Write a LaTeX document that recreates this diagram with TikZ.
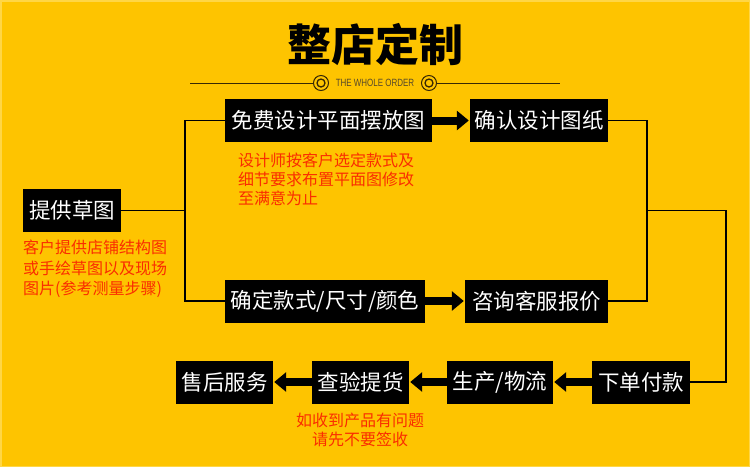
\documentclass[tikz,border=0pt]{standalone}
\usepackage{fontspec}
\usepackage{graphicx}
\setmainfont{Noto Sans CJK SC}
\newfontfamily\latinf{Liberation Sans}
\usetikzlibrary{arrows.meta}
\definecolor{bg}{RGB}{254,196,0}
\definecolor{bgedge}{RGB}{255,214,70}
\definecolor{redtxt}{RGB}{250,45,0}
\definecolor{ornament}{RGB}{55,40,5}
\begin{document}
\begin{tikzpicture}[x=1pt,y=-1pt,
  box/.style={fill=black, text=white, inner sep=0pt, minimum height=43pt, font=\fontsize{21.5}{24}\selectfont},
  note/.style={text=redtxt, inner sep=0pt, align=left, anchor=north west, font=\fontsize{16}{19}\selectfont},
  link/.style={draw=black, line width=1.1pt},
  bigarrow/.style={draw=black, line width=8pt, shorten >=1pt, -{Triangle[length=12pt 0, width=19pt 0]}},
  ring/.style={circle, draw=ornament, inner sep=0pt},
]
\fill[bg] (0,0) rectangle (750,467);
\draw[bgedge, line width=1.5pt] (0.75,0.75) rectangle (749.25,466.25);
\useasboundingbox (0,0) rectangle (750,467);

% title
\node[font=\fontsize{44}{48}\selectfont\bfseries, inner sep=0pt] (title) at (375,45) {整店定制};
\node[font=\latinf\fontsize{10.5}{12}\selectfont, text=ornament!85, inner sep=0pt] (sub) at (375,83) {\scalebox{0.76}[1]{THE WHOLE ORDER}};
\node[ring, line width=1pt, minimum size=15pt] (cl) at (321,83) {};
\node[ring, line width=1.3pt, minimum size=8pt] (cli) at (321,83) {};
\node[ring, line width=1pt, minimum size=15pt] (cr) at (429,83) {};
\node[ring, line width=1.3pt, minimum size=8pt] (cri) at (429,83) {};
\coordinate (ol) at (190,83);
\coordinate (or) at (560,83);
\draw[ornament, line width=1pt] (ol) -- (cl.west);
\draw[ornament, line width=1pt] (cr.east) -- (or);

% boxes
\node[box, minimum width=98pt] (s) at (72,210.5) {提供草图};
\node[box, minimum width=207pt] (b1) at (328.5,120.5) {免费设计平面摆放图};
\node[box, minimum width=138pt] (b2) at (539,120.5) {确认设计图纸};
\node[box, minimum width=200pt] (b3) at (325,301) {确定款式/尺寸/颜色};
\node[box, minimum width=143pt] (b4) at (536.5,301) {咨询客服报价};
\node[box, minimum width=98pt] (d1) at (641,382) {下单付款};
\node[box, minimum width=106pt] (d2) at (500,382) {生产/物流};
\node[box, minimum width=97pt] (d3) at (360.5,382) {查验提货};
\node[box, minimum width=97pt] (d4) at (224.5,382) {售后服务};

% notes
\node[note] (n1) at (238,153) {设计师按客户选定款式及\\细节要求布置平面图修改\\至满意为止};
\node[note, font=\fontsize{16}{20.3}\selectfont] (n2) at (23,240) {客户提供店铺结构图\\或手绘草图以及现场\\图片(参考测量步骤)};
\node[text=redtxt, inner sep=0pt, align=center, anchor=north, font=\fontsize{16}{19}\selectfont] (n3) at (360,413) {如收到产品有问题\\请先不要签收};

% thin connectors
\coordinate (lj) at (185,210.5);
\coordinate (rj) at (647,210.5);
\coordinate (rc) at (726,210.5);
\draw[link] (s.east) -- (lj);
\draw[link] (b1.west) -| (lj) |- (b3.west);
\draw[link] (b2.east) -| (rj) |- (b4.east);
\draw[link] (rj) -- (rc) |- (d1.east);

% thick arrows
\draw[bigarrow] (b1.east) -- (b2.west);
\draw[bigarrow] (b3.east) -- (b4.west);
\draw[bigarrow] (d1.west) -- (d2.east);
\draw[bigarrow] (d2.west) -- (d3.east);
\draw[bigarrow] (d3.west) -- (d4.east);
\end{tikzpicture}
\end{document}
